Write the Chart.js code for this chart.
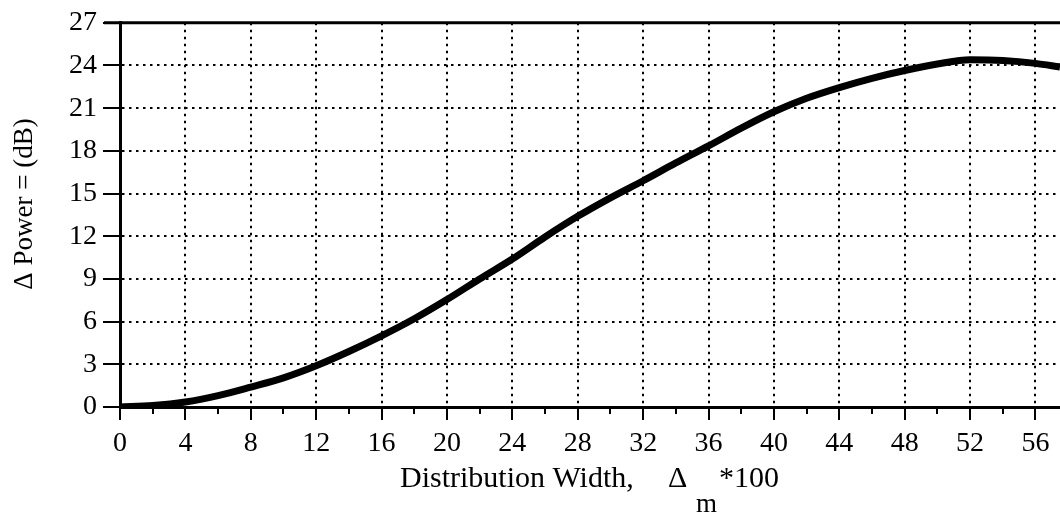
<!DOCTYPE html>
<html>
<head>
<meta charset="utf-8">
<script src="https://cdn.jsdelivr.net/npm/chart.js@4"></script>
<style>
  html, body { margin: 0; padding: 0; background: #fff; }
  #wrap { width: 1060px; height: 519px; }
</style>
</head>
<body>
<div id="wrap"><canvas id="chart"></canvas></div>
<script>
// Distribution width (x100) and power change (dB)
const widthValues = [0, 2, 4, 6, 8, 10, 12, 14, 16, 18, 20, 22, 24, 26, 28, 30, 32, 34, 36, 38, 40, 42, 44, 46, 48, 50, 52, 54, 56, 57.5];
const powerDb = [0, 0.1, 0.35, 0.8, 1.4, 2.05, 2.9, 3.9, 5.0, 6.2, 7.55, 9.0, 10.4, 11.95, 13.4, 14.7, 15.9, 17.15, 18.35, 19.6, 20.75, 21.7, 22.45, 23.1, 23.65, 24.1, 24.4, 24.35, 24.15, 23.9];
const xMajorTicks = [0, 4, 8, 12, 16, 20, 24, 28, 32, 36, 40, 44, 48, 52, 56];
const xMinorTicks = [2, 6, 10, 14, 18, 22, 26, 30, 34, 38, 42, 46, 50, 54];

const FONT = '"Liberation Serif", "Times New Roman", serif';

// minor ticks, top frame line and both axis titles (x one has a subscript)
const extras = {
  id: 'extras',
  afterDraw(chart) {
    const { ctx, chartArea } = chart;
    const xs = chart.scales.x;
    ctx.save();
    ctx.strokeStyle = '#000';
    ctx.lineWidth = 2;
    for (const v of xMinorTicks) {
      const px = Math.round(xs.getPixelForValue(v));
      ctx.beginPath();
      ctx.moveTo(px, chartArea.bottom);
      ctx.lineTo(px, chartArea.bottom + 7);
      ctx.stroke();
    }
    ctx.lineWidth = 3;
    ctx.beginPath();
    ctx.moveTo(chartArea.left - 16, chartArea.top);
    ctx.lineTo(chartArea.right, chartArea.top);
    ctx.stroke();

    ctx.fillStyle = '#000';
    ctx.textBaseline = 'alphabetic';

    // x axis title
    const base = 487;
    ctx.textAlign = 'left';
    ctx.font = '30px ' + FONT;
    ctx.fillText('Distribution Width,', 400, base);
    ctx.fillText('\u0394', 668, base);
    ctx.font = '27px ' + FONT;
    ctx.fillText('m', 696, base + 25);
    ctx.font = '30px ' + FONT;
    ctx.textAlign = 'right';
    ctx.fillText('*100', 779, base);

    // y axis title
    ctx.translate(25, 204);
    ctx.rotate(-Math.PI / 2);
    ctx.textAlign = 'center';
    ctx.textBaseline = 'middle';
    ctx.font = '27px ' + FONT;
    ctx.fillText('\u0394 Power = (dB)', 0, 0);
    ctx.restore();
  }
};

new Chart(document.getElementById('chart'), {
  type: 'line',
  data: {
    datasets: [{
      data: widthValues.map((w, i) => ({ x: w, y: powerDb[i] })),
      borderColor: '#000',
      borderWidth: 7,
      pointRadius: 0,
      cubicInterpolationMode: 'monotone',
      fill: false,
    }],
  },
  options: {
    responsive: true,
    maintainAspectRatio: false,
    animation: false,
    layout: { padding: { top: 22, right: 0, left: 0, bottom: 0 } },
    plugins: { legend: { display: false }, tooltip: { enabled: false } },
    scales: {
      x: {
        type: 'linear',
        min: 0,
        max: 57.5,
        afterBuildTicks: scale => { scale.ticks = xMajorTicks.map(v => ({ value: v })); },
        afterFit: scale => { scale.height = 112; },
        ticks: {
          color: '#000',
          font: { family: FONT, size: 28 },
          padding: 7,
          maxRotation: 0,
          autoSkip: false,
        },
        grid: {
          color: '#000',
          lineWidth: 2,
          tickLength: 13,
          tickColor: '#000',
          tickWidth: 2,
        },
        border: { display: true, color: '#000', width: 3, dash: [2.5, 4.5] },
      },
      y: {
        min: 0,
        max: 27,
        afterBuildTicks: scale => {
          const t = [];
          for (let v = 0; v <= 27; v += 3) t.push({ value: v });
          scale.ticks = t;
        },
        afterFit: scale => { scale.width = 120; },
        ticks: {
          color: '#000',
          font: { family: FONT, size: 28 },
          padding: 6,
        },
        grid: {
          color: '#000',
          lineWidth: 2,
          tickLength: 17,
          tickColor: '#000',
          tickWidth: 2,
        },
        border: { display: true, color: '#000', width: 3, dash: [2.5, 4.5] },
      },
    },
  },
  plugins: [extras],
});
</script>
</body>
</html>
